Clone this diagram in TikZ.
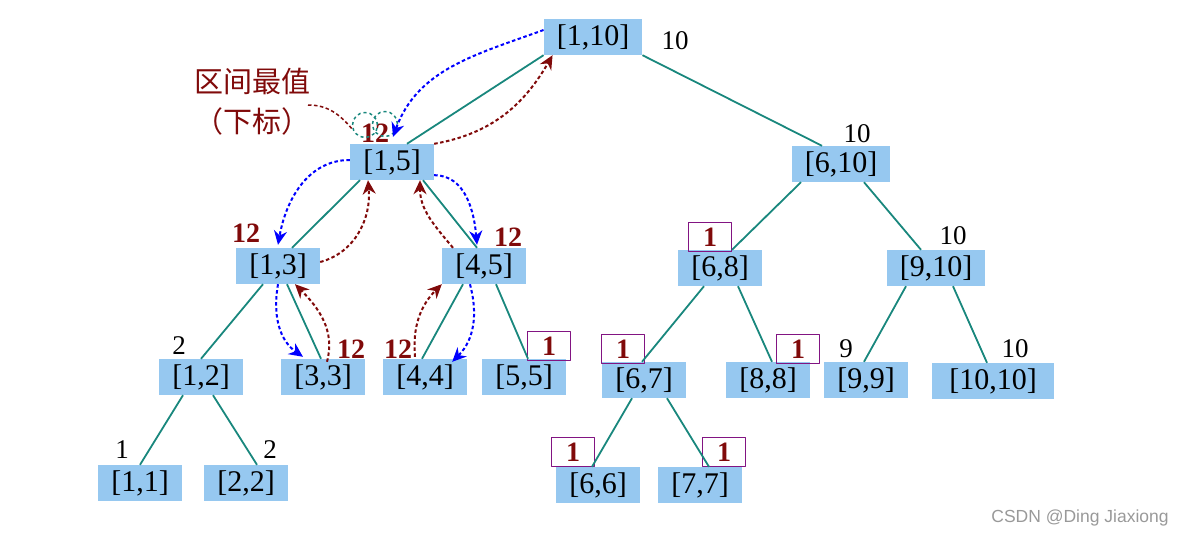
\documentclass[tikz,border=0pt]{standalone}
\usepackage{fontspec}
\setmainfont{Liberation Serif}
\newfontfamily\cjk{Noto Sans CJK SC}
\newfontfamily\wmfont{Liberation Sans}
\usetikzlibrary{arrows.meta}
\usetikzlibrary{positioning}
\usetikzlibrary{calc}

\definecolor{segblue}{RGB}{150,200,240}
\definecolor{edgeteal}{RGB}{25,135,125}
\definecolor{maxred}{RGB}{128,10,10}
\definecolor{goblue}{RGB}{0,0,255}
\definecolor{boxpurple}{RGB}{130,20,130}

\begin{document}
\begin{tikzpicture}[x=1pt,y=1pt,>={Stealth[length=14pt,width=13pt]},line join=round]
		\tikzstyle{seg}=[fill=segblue,minimum width=84pt,minimum height=36pt,inner xsep=13pt,font=\fontsize{30}{32}\selectfont]
		\tikzstyle{val}=[font=\fontsize{27}{29}\selectfont,inner sep=1pt]
		\tikzstyle{hot}=[text=maxred,font=\fontsize{28}{30}\selectfont\bfseries,inner sep=1pt]
		\tikzstyle{idx}=[hot,draw=boxpurple,line width=1.6pt,minimum width=43pt,minimum height=29pt]
		\tikzstyle{tree}=[draw=edgeteal,line width=1.8pt]
		\tikzstyle{down}=[draw=goblue,->,dash pattern=on 3.5pt off 2.5pt,line width=2pt]
		\tikzstyle{up}=[draw=maxred,->,dash pattern=on 3.5pt off 2.5pt,line width=2pt]
		
		\useasboundingbox (0,0) rectangle (1186,-538);
		
		% segments
		\node[seg]         (n110)  at (593,-37)   {[1,10]};
		\node[seg]         (n15)   at (392,-162)  {[1,5]};
		\node[seg]         (n610)  at (841,-164)  {[6,10]};
		\node[seg]         (n13)   at (278,-266)  {[1,3]};
		\node[seg]         (n45)   at (484,-266)  {[4,5]};
		\node[seg]         (n68)   at (720,-268)  {[6,8]};
		\node[seg]         (n910)  at (936,-268)  {[9,10]};
		\node[seg]         (n12)   at (201,-377)  {[1,2]};
		\node[seg]         (n33)   at (323,-377)  {[3,3]};
		\node[seg]         (n44)   at (425,-377)  {[4,4]};
		\node[seg]         (n55)   at (524,-377)  {[5,5]};
		\node[seg]         (n67)   at (644,-380)  {[6,7]};
		\node[seg]         (n88)   at (768,-380)  {[8,8]};
		\node[seg]         (n99)   at (866,-380)  {[9,9]};
		\node[seg,minimum width=122pt] (n1010) at (993,-381) {[10,10]};
		\node[seg]         (n11)   at (140,-483)  {[1,1]};
		\node[seg]         (n22)   at (246,-483)  {[2,2]};
		\node[seg]         (n66)   at (598,-485)  {[6,6]};
		\node[seg]         (n77)   at (700,-485)  {[7,7]};
		
		% values
		\node[val]         (v110)  at (675,-41)   {10};
		\node[val]         (v610)  at (857,-134)  {10};
		\node[val]         (v910)  at (953,-236)  {10};
		\node[val]         (v99)   at (846,-349)  {9};
		\node[val]         (v1010) at (1015,-349) {10};
		\node[val]         (v12)   at (179,-346)  {2};
		\node[val]         (v11)   at (122,-450)  {1};
		\node[val]         (v22)   at (270,-450)  {2};
		
		\node[hot]         (h15)   at (375,-133)  {12};
		\node[hot]         (h13)   at (246,-233)  {12};
		\node[hot]         (h45)   at (508,-237)  {12};
		\node[hot]         (h33)   at (351,-349)  {12};
		\node[hot]         (h44)   at (398,-349)  {12};
		
		\node[idx]         (i68)   at (710,-237)  {1};
		\node[idx]         (i55)   at (549,-346)  {1};
		\node[idx]         (i67)   at (623,-349)  {1};
		\node[idx]         (i88)   at (798,-349)  {1};
		\node[idx]         (i66)   at (573,-452)  {1};
		\node[idx]         (i77)   at (724,-452)  {1};
		
		% note
		\node[text=maxred,font=\cjk\fontsize{29}{31}\selectfont] (title) at (252,-81)  {区间最值};
		\node[text=maxred,font=\cjk\fontsize{29}{31}\selectfont] (sub)   at (252,-121) {（下标）};
		\node[draw=edgeteal,dashed,circle,line width=1.5pt,minimum size=25pt,inner sep=0pt] (ring1) at (365,-125) {};
		\node[draw=edgeteal,dashed,circle,line width=1.5pt,minimum size=25pt,inner sep=0pt] (ring2) at (385,-124) {};
		\coordinate (tag) at (308,-105);
		
		\node[text=black!40,font=\wmfont\fontsize{17.5}{19}\selectfont] (mark) at (1080,-518) {CSDN @Ding Jiaxiong};
		
		% tree
		\path (n110.south west)         edge[tree] ([xshift=15pt]n15.north)
		(n110.south east)               edge[tree] ([xshift=-19pt]n610.north)
		([xshift=-32pt]n15.south)       edge[tree] ([xshift=14pt]n13.north)
		([xshift=31pt]n15.south)        edge[tree] ([xshift=-7pt]n45.north)
		([xshift=-15pt]n13.south)       edge[tree] (n12.north)
		([xshift=9pt]n13.south)         edge[tree] ([xshift=-2pt]n33.north)
		([xshift=-21pt]n45.south)       edge[tree] ([xshift=-3pt]n44.north)
		([xshift=12pt]n45.south)        edge[tree] ([xshift=4pt]n55.north)
		([xshift=-18pt]n12.south)       edge[tree] (n11.north)
		([xshift=12pt]n12.south)        edge[tree] ([xshift=11pt]n22.north)
		([xshift=-40pt]n610.south)      edge[tree] ([xshift=12pt]n68.north)
		([xshift=23pt]n610.south)       edge[tree] ([xshift=-15pt]n910.north)
		([xshift=-16pt]n68.south)       edge[tree] ([xshift=-2pt]n67.north)
		([xshift=18pt]n68.south)        edge[tree] ([xshift=4pt]n88.north)
		([xshift=-30pt]n910.south)      edge[tree] ([xshift=-2pt]n99.north)
		([xshift=17pt]n910.south)       edge[tree] ([xshift=-6pt]n1010.north)
		([xshift=-12pt]n67.south)       edge[tree] ([xshift=-6pt]n66.north)
		([xshift=23pt]n67.south)        edge[tree] ([xshift=9pt]n77.north);
		
		% query passes
		\path ([yshift=7pt]n110.west)   edge[down,out=200,in=70]   ([xshift=1pt,yshift=7pt]n15.north)
		(n15.north east)                edge[up,out=10,in=-120]    ([xshift=9pt]n110.south west)
		([yshift=2pt]n15.west)          edge[down,out=180,in=80]   ([yshift=3pt]n13.north)
		([yshift=4pt]n13.east)          edge[up,out=15,in=-85]     ([xshift=-24pt]n15.south)
		([xshift=-31pt]n45.north)       edge[up,out=130,in=-90]    ([xshift=28pt]n15.south)
		([yshift=5pt]n15.south east)    edge[down,out=0,in=95]     ([xshift=-7pt,yshift=3pt]n45.north)
		(n13.south)                     edge[down,out=-100,in=145] ([xshift=-20pt,yshift=2pt]n33.north)
		([xshift=4pt,yshift=-3pt]n33.north) edge[up,out=75,in=-45] ([xshift=17pt]n13.south)
		([xshift=-10pt,yshift=2pt]n44.north) edge[up,out=95,in=-135] (n45.south west)
		([xshift=-14pt]n45.south)       edge[down,out=-75,in=45]   ([xshift=-15pt,yshift=-3pt]n44.north east)
		(tag)                           edge[draw=maxred,dash pattern=on 3.5pt off 2.5pt,line width=1.5pt,out=0,in=130] (ring1.200);
		
\end{tikzpicture}
\end{document}
